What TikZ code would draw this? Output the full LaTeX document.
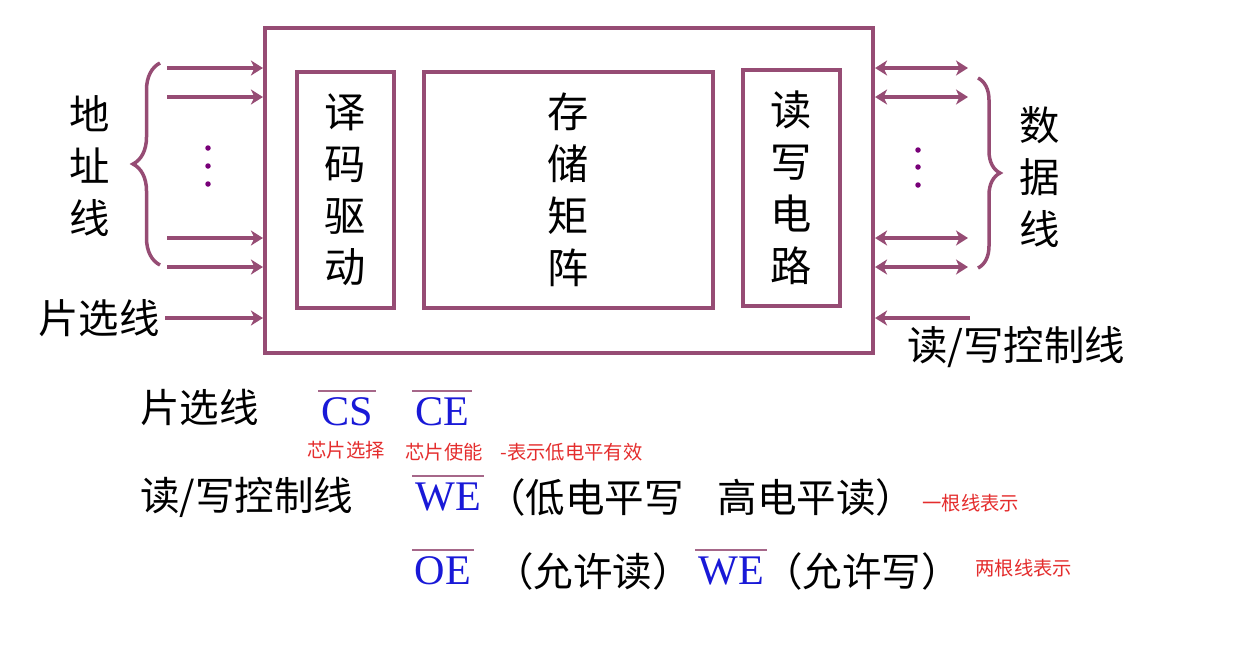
\documentclass[tikz,border=0pt]{standalone}
\usepackage{fontspec}
\setmainfont{Liberation Serif}
\newfontfamily\cjk{Noto Sans CJK SC}
\usetikzlibrary{arrows.meta, positioning, decorations.pathreplacing, calc}
\definecolor{wine}{RGB}{150, 76, 116}
\definecolor{dotpurple}{RGB}{120, 0, 120}
\definecolor{sigblue}{RGB}{25, 25, 215}
\definecolor{notered}{RGB}{228, 45, 45}

\begin{document}
\begin{tikzpicture}[
        x=0.02cm, y=-0.02cm,
        big/.style={font=\cjk\fontsize{23}{29.5}\selectfont, align=center, inner sep=0pt},
        box/.style={draw=wine, line width=0.085cm, inner sep=0pt, align=center, font=\cjk\fontsize{23.5}{29.5}\selectfont},
        arr/.style={draw=wine, line width=0.07cm, -{Stealth[length=0.24cm, width=0.3cm, inset=0.07cm]}},
        darr/.style={draw=wine, line width=0.07cm, {Stealth[length=0.24cm, width=0.3cm, inset=0.07cm]}-{Stealth[length=0.24cm, width=0.3cm, inset=0.07cm]}},
        brc/.style={draw=wine, line width=0.07cm, decorate, decoration={brace, amplitude=#1}},
        dot/.style={circle, fill=dotpurple, inner sep=0pt, minimum size=0.11cm},
        txt/.style={font=\cjk\fontsize{22.5}{27}\selectfont, inner sep=0pt},
        sig/.style={font=\fontsize{24}{28}\selectfont, text=sigblue, inner xsep=0pt, inner ysep=1.5pt},
        bar/.style={draw=wine!85, line width=0.05cm},
        note/.style={font=\cjk\fontsize{11}{13}\selectfont, text=notered, inner sep=0pt},
    ]
        \useasboundingbox (0,0) rectangle (1254,654);

        % --- Chip body and its three blocks ---
        \node[box, minimum width=12.16cm, minimum height=6.5cm] (chip) at (569,190.5) {};
        \node[box, minimum width=1.94cm, minimum height=4.72cm] (dec) at (345.5,190) {译\\码\\驱\\动};
        \node[box, minimum width=5.78cm, minimum height=4.72cm] (mat) at (568.5,190) {存\\储\\矩\\阵};
        \node[box, minimum width=1.94cm, minimum height=4.72cm] (rwc) at (791.5,188) {读\\写\\电\\路};

        % --- Address lines (left) ---
        \foreach \y in {68,97,238,267} {
            \coordinate (ad\y) at (167,\y);
            \draw[arr] (ad\y) -- (ad\y -| chip.west);
        }
        \foreach \y in {148,166,184} \node[dot] (ldot\y) at (208,\y) {};
        \draw[brc=0.54cm] (160,265) -- (160,63);
        \node[big] (addr) at (90,166) {地\\址\\线};

        % --- Chip select input ---
        \node[big, anchor=east] (csl) at (160,318) {片选线};
        \draw[arr] ([xshift=0.1cm]csl.east) -- (csl.east -| chip.west);

        % --- Data lines (right) ---
        \foreach \y in {68,97,238,267} {
            \coordinate (da\y) at (968,\y);
            \draw[darr] (da\y -| chip.east) -- (da\y);
        }
        \foreach \y in {150,167,185} \node[dot] (rdot\y) at (918,\y) {};
        \draw[brc=0.44cm] (978,78) -- (978,268);
        \node[big] (data) at (1040,177) {数\\据\\线};

        % --- Read/write control input ---
        \coordinate (rwin) at (970,318);
        \draw[arr] (rwin) -- (rwin -| chip.east);
        \node[big] (rwl) at (1016,347) {读/写控制线};

        % --- Legend: chip select ---
        \node[txt, anchor=west] (csrow) at (140,407) {片选线};
        \node[sig] (cs) at (347,412) {CS};
        \node[sig] (ce) at (442,412) {CE};
        \draw[bar] ([xshift=-0.05cm, yshift=0.08cm]cs.north west) -- ([xshift=0.05cm, yshift=0.08cm]cs.north east);
        \draw[bar] ([xshift=-0.05cm, yshift=0.08cm]ce.north west) -- ([xshift=0.05cm, yshift=0.08cm]ce.north east);
        \node[note, anchor=west] (csn) at (307,450) {芯片选择};
        \node[note, anchor=west] (cen) at (405,452) {芯片使能};
        \node[note, anchor=west] (lown) at (500,452) {-表示低电平有效};

        % --- Legend: read/write, one line ---
        \node[txt, anchor=west] (rwrow) at (140,497) {读/写控制线};
        \node[sig] (we) at (448,497) {WE};
        \draw[bar] ([xshift=-0.05cm, yshift=0.08cm]we.north west) -- ([xshift=0.05cm, yshift=0.08cm]we.north east);
        \node[txt, anchor=west] (wemode) at (486,497) {（低电平写\hspace{0.85em}高电平读）};
        \node[note, anchor=west] (onen) at (922,503) {一根线表示};

        % --- Legend: read/write, two lines ---
        \node[sig] (oe) at (443,571) {OE};
        \node[sig] (we2) at (731,571) {WE};
        \draw[bar] ([xshift=-0.05cm, yshift=0.08cm]oe.north west) -- ([xshift=0.05cm, yshift=0.08cm]oe.north east);
        \draw[bar] ([xshift=-0.05cm, yshift=0.08cm]we2.north west) -- ([xshift=0.05cm, yshift=0.08cm]we2.north east);
        \node[txt, anchor=west] (oerd) at (494,571) {（允许读）};
        \node[txt, anchor=west] (wewr) at (763,571) {（允许写）};
        \node[note, anchor=west] (twon) at (975,568) {两根线表示};

    \end{tikzpicture}
\end{document}
